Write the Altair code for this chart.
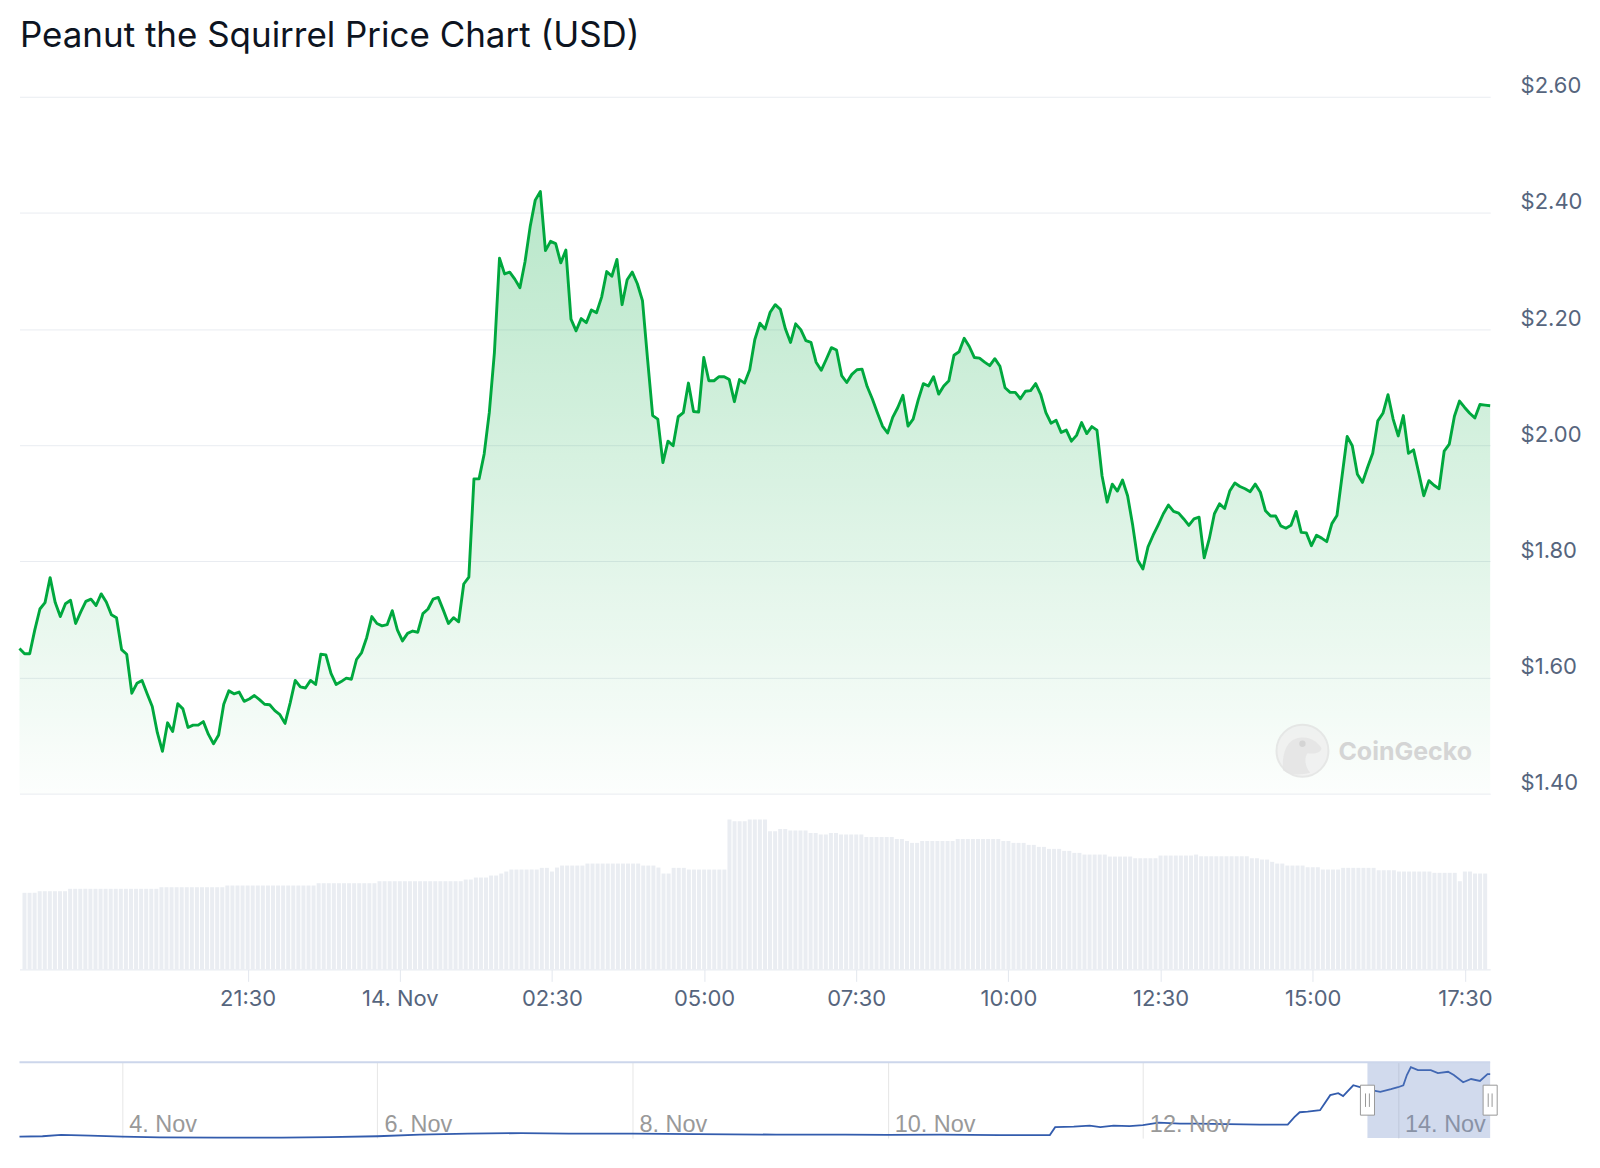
import altair as alt
import pandas as pd

TITLE = "Peanut the Squirrel Price Chart (USD)"
PRICE_START = "2024-11-13 17:50"
PRICE_END = "2024-11-14 17:50"
NAV_START = "2024-11-03 04:40"
NAV_END = "2024-11-14 17:20"
SEL_START = "2024-11-13 18:15"

# 5-minute prices (USD)
PRICES_NIGHT = [
    1.650, 1.641, 1.641, 1.682, 1.718, 1.729, 1.772, 1.729, 1.705, 1.727,
    1.733, 1.693, 1.713, 1.731, 1.735, 1.724, 1.744, 1.730, 1.708, 1.703,
    1.648, 1.640, 1.573, 1.590, 1.595, 1.572, 1.550, 1.505, 1.473, 1.522,
    1.507, 1.555, 1.546, 1.514, 1.518, 1.518, 1.524, 1.502, 1.486, 1.501,
    1.554, 1.577, 1.572, 1.575, 1.559, 1.563, 1.569, 1.562, 1.554, 1.553,
    1.543, 1.536, 1.521, 1.556, 1.595, 1.584, 1.582, 1.595, 1.588, 1.640,
    1.639, 1.607, 1.588, 1.593, 1.599, 1.597, 1.631, 1.643, 1.669, 1.705,
    1.693, 1.689, 1.691, 1.715, 1.682, 1.663, 1.676, 1.680, 1.678, 1.710,
    1.718, 1.735, 1.738, 1.716, 1.693, 1.703, 1.696, 1.761, 1.773, 1.942,
    1.942, 1.985, 2.056, 2.159, 2.322, 2.295, 2.298, 2.286, 2.271, 2.316,
    2.376, 2.422, 2.437,
]
PRICES_MORNING = [
    2.335, 2.351, 2.347, 2.314, 2.336, 2.217, 2.197, 2.218, 2.211, 2.233,
    2.228, 2.255, 2.299, 2.291, 2.320, 2.242, 2.285, 2.298, 2.278, 2.249,
    2.148, 2.051, 2.045, 1.970, 2.007, 1.999, 2.049, 2.056, 2.107, 2.058,
    2.057, 2.151, 2.111, 2.111, 2.118, 2.118, 2.113, 2.075, 2.113, 2.107,
    2.130, 2.182, 2.210, 2.200, 2.229, 2.242, 2.234, 2.200, 2.177, 2.209,
    2.199, 2.180, 2.177, 2.143, 2.129, 2.148, 2.168, 2.164, 2.120, 2.108,
    2.122, 2.130, 2.131, 2.101, 2.080, 2.056, 2.033, 2.021, 2.048, 2.065,
    2.086, 2.033, 2.045, 2.078, 2.106, 2.102, 2.118, 2.088, 2.102, 2.111,
    2.155, 2.161, 2.184, 2.170, 2.151, 2.150, 2.143, 2.137,
]
PRICES_AFTERNOON = [
    2.149, 2.136, 2.099, 2.091, 2.091, 2.080, 2.093, 2.094, 2.106, 2.087,
    2.056, 2.038, 2.043, 2.022, 2.026, 2.007, 2.017, 2.039, 2.020, 2.032,
    2.026, 1.947, 1.902, 1.933, 1.921, 1.940, 1.913, 1.862, 1.802, 1.787,
    1.825, 1.845, 1.863, 1.882, 1.897, 1.886, 1.883, 1.873, 1.862, 1.873,
    1.876, 1.806, 1.839, 1.882, 1.899, 1.891, 1.921, 1.935, 1.929, 1.925,
    1.920, 1.933, 1.919, 1.887, 1.878, 1.878, 1.861, 1.857, 1.862, 1.886,
    1.850, 1.849, 1.827, 1.845, 1.840, 1.834, 1.865, 1.879, 1.947, 2.015,
    1.999, 1.950, 1.936, 1.962, 1.986, 2.042, 2.055, 2.087, 2.045, 2.016,
    2.051, 1.986, 1.992, 1.953, 1.913, 1.939, 1.931, 1.925, 1.990, 2.002,
    2.050, 2.076, 2.065, 2.055, 2.047, 2.070, 2.069, 2.068,
]

# 24h volume (USD millions) per 5-minute bar, as runs of equal bars
VOL_COUNTS = [3, 6, 18, 13, 18, 12, 17, 2, 3, 2, 1, 1, 6, 2, 1, 1, 5, 11, 3, 1,
              2, 3, 8, 1, 3, 4, 2, 2, 4, 2, 2, 2, 5, 6, 2, 1, 2, 7, 9, 2,
              3, 2, 2, 3, 2, 2, 5, 5, 2, 3, 7, 1, 10, 2, 2, 1, 2, 4, 3, 4,
              7, 4, 7, 5, 1, 2, 3]
VOL_VALUES = [1534, 1566, 1614, 1646, 1680, 1726, 1766, 1800, 1840, 1880, 1920, 1960,
              2000, 2034, 1960, 2040, 2080, 2120, 2080, 2040, 1920, 2034, 2000, 3000,
              2966, 3000, 2766, 2814, 2780, 2734, 2700, 2734, 2700, 2654, 2614, 2574,
              2534, 2574, 2614, 2574, 2534, 2494, 2454, 2414, 2374, 2334, 2300, 2260,
              2226, 2226, 2280, 2300, 2266, 2226, 2200, 2154, 2120, 2080, 2046, 2000,
              2034, 1986, 1960, 1934, 1766, 1960, 1920]

# navigator series (longer range)
NAV_TIMES = [
    "2024-11-03 04:40", "2024-11-03 09:00", "2024-11-03 12:30", "2024-11-03 18:00",
    "2024-11-04 00:00", "2024-11-04 07:00", "2024-11-04 18:00", "2024-11-05 06:00",
    "2024-11-05 15:00", "2024-11-06 00:00", "2024-11-06 08:00", "2024-11-06 17:00",
    "2024-11-07 03:00", "2024-11-07 12:00", "2024-11-08 00:00", "2024-11-08 12:00",
    "2024-11-09 03:00", "2024-11-09 16:00", "2024-11-10 00:00", "2024-11-10 10:00",
    "2024-11-10 21:00", "2024-11-11 06:30", "2024-11-11 07:30", "2024-11-11 11:00",
    "2024-11-11 14:00", "2024-11-11 16:00", "2024-11-11 18:30", "2024-11-11 21:30",
    "2024-11-12 00:00", "2024-11-12 03:00", "2024-11-12 07:00", "2024-11-12 10:00",
    "2024-11-12 16:00", "2024-11-12 22:00", "2024-11-13 03:15", "2024-11-13 04:30",
    "2024-11-13 05:30", "2024-11-13 07:00", "2024-11-13 09:20", "2024-11-13 11:15",
    "2024-11-13 12:45", "2024-11-13 13:40", "2024-11-13 15:35", "2024-11-13 16:50",
    "2024-11-13 18:00", "2024-11-13 20:40", "2024-11-13 22:40", "2024-11-14 00:00",
    "2024-11-14 01:00", "2024-11-14 01:40", "2024-11-14 02:25", "2024-11-14 03:45",
    "2024-11-14 06:10", "2024-11-14 07:30", "2024-11-14 09:25", "2024-11-14 10:30",
    "2024-11-14 12:15", "2024-11-14 13:45", "2024-11-14 15:25", "2024-11-14 16:50",
    "2024-11-14 17:20",
]
NAV_PRICES = [
    0.288, 0.300, 0.343, 0.320, 0.288, 0.264, 0.255, 0.258, 0.273, 0.300,
    0.350, 0.380, 0.395, 0.380, 0.380, 0.365, 0.350, 0.350, 0.340, 0.350,
    0.335, 0.335, 0.577, 0.590, 0.620, 0.577, 0.620, 0.608, 0.638, 0.714,
    0.684, 0.684, 0.670, 0.654, 0.654, 0.880, 1.030, 1.050, 1.090, 1.550,
    1.610, 1.520, 1.850, 1.790, 1.730, 1.650, 1.730, 1.790, 1.850, 2.160,
    2.400, 2.310, 2.310, 2.220, 2.260, 2.160, 1.940, 2.040, 1.980, 2.190,
    2.190,
]
NAV_LABEL_DATES = ["2024-11-04", "2024-11-06", "2024-11-08", "2024-11-10",
                   "2024-11-12", "2024-11-14"]
NAV_LABELS = ["4. Nov", "6. Nov", "8. Nov", "10. Nov", "12. Nov", "14. Nov"]
NAV_Y = [0.243, 2.55]

PRICE_TICKS = [1.4, 1.6, 1.8, 2.0, 2.2, 2.4, 2.6]
TIME_TICKS = ["2024-11-13 21:30", "2024-11-14 00:00", "2024-11-14 02:30",
              "2024-11-14 05:00", "2024-11-14 07:30", "2024-11-14 10:00",
              "2024-11-14 12:30", "2024-11-14 15:00", "2024-11-14 17:30"]


def iso(s):
    return pd.Timestamp(s).strftime("%Y-%m-%dT%H:%M:%SZ")


def ms(s):
    return int(pd.Timestamp(s, tz="UTC").timestamp() * 1000)


prices = PRICES_NIGHT + PRICES_MORNING + PRICES_AFTERNOON
times = pd.date_range(PRICE_START, periods=len(prices), freq="5min")
tstr = [t.strftime("%Y-%m-%dT%H:%M:%SZ") for t in times]
price_df = pd.DataFrame({"t": tstr, "price": prices})
vol_values = [v for c, v in zip(VOL_COUNTS, VOL_VALUES) for _ in range(c)]
vol_df = pd.DataFrame({"t": tstr, "volume": vol_values})
nav_df = pd.DataFrame({"t": [iso(s) for s in NAV_TIMES], "price": NAV_PRICES})
nav_lab_df = pd.DataFrame({"t": [iso(s) for s in NAV_LABEL_DATES], "label": NAV_LABELS})
sel_df = pd.DataFrame({"t0": [iso(SEL_START)], "t1": [iso(NAV_END)]})
handle_df = pd.DataFrame({"t": [iso(SEL_START), iso(NAV_END)],
                          "y": [sum(NAV_Y) / 2] * 2})

W = 1473
FONT = "Inter"
LABEL_COLOR = "#56657d"
GREEN = "#00a83e"

x_main = alt.X("t:T", scale=alt.Scale(type="utc", domain=[ms(PRICE_START), ms(PRICE_END)]),
               axis=None)
y_price = alt.Y("price:Q",
                scale=alt.Scale(domain=[1.4, 2.6], zero=False, nice=False),
                axis=alt.Axis(orient="right", values=PRICE_TICKS, grid=True,
                              gridColor="#e9ecf1", gridWidth=1, domain=False, ticks=False,
                              labelExpr="'$' + format(datum.value, '.2f')",
                              labelFont=FONT, labelFontSize=22, labelColor=LABEL_COLOR,
                              labelAlign="left", labelPadding=30, labelOffset=-11,
                              title=None))

area = alt.Chart(price_df).mark_area(
    color=alt.Gradient(
        gradient="linear",
        stops=[alt.GradientStop(color="rgba(0,168,62,0.28)", offset=0),
               alt.GradientStop(color="rgba(0,168,62,0.01)", offset=1)],
        x1=1, x2=1, y1=0, y2=1),
).encode(x=x_main, y=y_price, y2=alt.datum(1.4))

line = alt.Chart(price_df).mark_line(color=GREEN, strokeWidth=2.9, strokeJoin="round").encode(
    x=x_main, y=y_price)

# CoinGecko watermark (decoration, not data)
wm_df = pd.DataFrame({"label": ["CoinGecko"]})
wm_circle = alt.Chart(wm_df).mark_point(
    shape="circle", size=2704, filled=True, fill="#eeeeee", stroke="#e0e0e0",
    strokeWidth=2, opacity=0.75).encode(x=alt.value(1285), y=alt.value(655))
wm_gecko = alt.Chart(wm_df).mark_point(
    shape="M-0.75,0.75 C-0.8,0.1 -0.6,-0.45 -0.1,-0.5 C0.3,-0.55 0.55,-0.35 0.7,-0.15 "
          "C0.8,0 0.6,0.15 0.2,0.1 C0.05,0.3 0.1,0.6 0.3,0.85 C-0.1,0.95 -0.5,0.95 -0.75,0.75 Z",
    size=2704, filled=True, fill="#e4e4e4", opacity=0.8).encode(x=alt.value(1285), y=alt.value(655))
wm_eye = alt.Chart(wm_df).mark_point(
    shape="circle", size=40, filled=True, fill="#d2d2d2", opacity=0.9).encode(
    x=alt.value(1285), y=alt.value(648))
wm_text = alt.Chart(wm_df).mark_text(
    align="left", baseline="middle", font=FONT, fontSize=25, fontWeight="bold",
    color="#cfcfcf", opacity=0.85).encode(x=alt.value(1321), y=alt.value(656), text="label:N")

price_panel = alt.layer(area, line, wm_circle, wm_gecko, wm_eye, wm_text).properties(
    width=W, height=698)

vol_panel = alt.Chart(vol_df).mark_bar(size=4, color="#eaedf2").encode(
    x=alt.X("t:T", scale=alt.Scale(type="utc", domain=[ms(PRICE_START), ms(PRICE_END)]),
            axis=alt.Axis(values=[ms(s) for s in TIME_TICKS],
                          labelExpr="utchours(datum.value) == 0 && utcminutes(datum.value) == 0 ? utcFormat(datum.value, '%-d. %b') : utcFormat(datum.value, '%H:%M')",
                          grid=False, domainColor="#e3e7ee", tickColor="#e3e7ee",
                          tickSize=12, labelFont=FONT, labelFontSize=22,
                          labelColor=LABEL_COLOR, labelPadding=7, labelFlush=False,
                          title=None)),
    y=alt.Y("volume:Q", scale=alt.Scale(domain=[0, 3200], nice=False), axis=None),
).properties(width=W, height=160)

x_nav = alt.X("t:T", scale=alt.Scale(type="utc", domain=[ms(NAV_START), ms(NAV_END)]),
              axis=alt.Axis(values=[ms(s) for s in NAV_LABEL_DATES], grid=True,
                            gridColor="#e6e6e6", labels=False, ticks=False, domain=False,
                            title=None))
y_nav = alt.Y("price:Q", scale=alt.Scale(domain=NAV_Y, zero=False, nice=False), axis=None)

nav_line = alt.Chart(nav_df).mark_line(color="#335cad", strokeWidth=1.8).encode(x=x_nav, y=y_nav)
nav_text = alt.Chart(nav_lab_df).mark_text(
    align="left", baseline="alphabetic", dx=7, dy=-6, font="Liberation Sans", fontSize=23.5,
    color="#999999").encode(x="t:T", y=alt.datum(NAV_Y[0]), text="label:N")
nav_mask = alt.Chart(sel_df).mark_rect(color="#6685c2", opacity=0.3).encode(
    x="t0:T", x2="t1:T", y=alt.datum(NAV_Y[0]), y2=alt.datum(NAV_Y[1]))
nav_top = alt.Chart(sel_df).mark_rule(color="#ccd6eb", strokeWidth=2).encode(
    y=alt.datum(NAV_Y[1]))
handle_box = alt.Chart(handle_df).mark_point(
    shape="M-0.47,-1 L0.47,-1 L0.47,1 L-0.47,1 Z", size=900, fill="#ffffff",
    fillOpacity=1, stroke="#999999", strokeWidth=1, opacity=1).encode(x="t:T", y=alt.Y("y:Q"))
handle_lines = alt.Chart(handle_df).mark_point(
    shape="M-0.13,-0.45 L-0.13,0.45 M0.13,-0.45 L0.13,0.45", size=900, filled=False,
    stroke="#999999", strokeWidth=1, opacity=1).encode(x="t:T", y=alt.Y("y:Q"))

nav_panel = alt.layer(nav_line, nav_text, nav_mask, nav_top, handle_box, handle_lines).properties(
    width=W, height=76)

top = alt.vconcat(price_panel, vol_panel, spacing=16).resolve_scale(x="independent", y="independent")
chart = alt.vconcat(top, nav_panel, spacing=52).resolve_scale(
    x="independent", y="independent").properties(
    title=alt.TitleParams(text=TITLE, anchor="start", font=FONT, fontSize=35,
                          fontWeight="normal", color="#0d1421", offset=21, dx=4),
    padding={"left": 7.5, "top": 10, "right": 10, "bottom": 8},
    background="#ffffff",
).configure_view(stroke=None)

chart.save("out.html", embed_options={"renderer": "svg", "actions": False})
